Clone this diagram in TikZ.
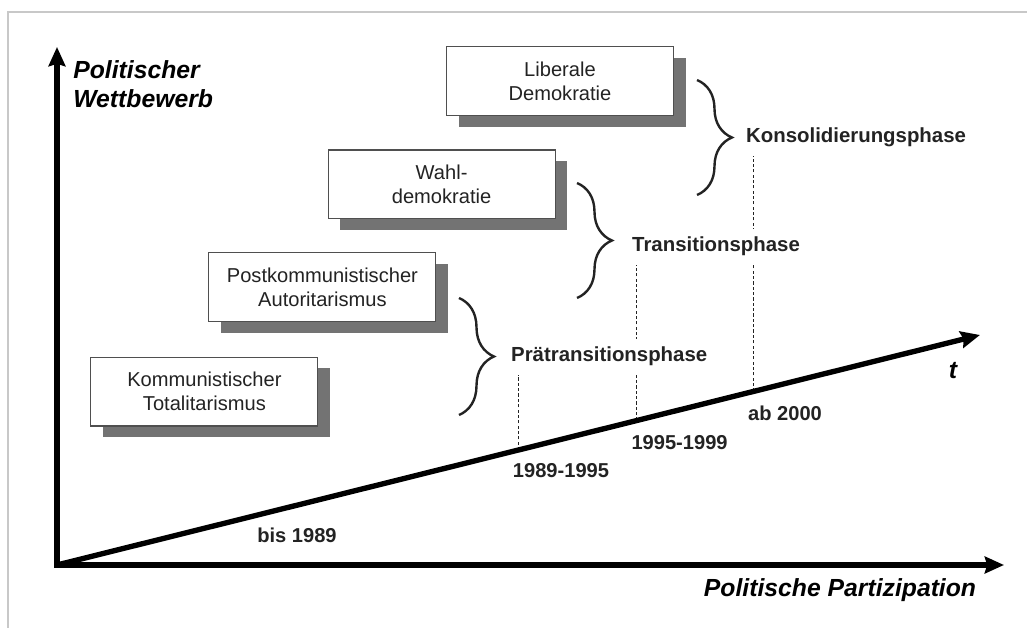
\documentclass[tikz,border=0pt]{standalone}
\usepackage{fontspec}
\setmainfont{Liberation Sans}
\usetikzlibrary{arrows.meta, calc, shadows, backgrounds, decorations.pathreplacing}
\definecolor{framegray}{RGB}{200, 200, 200}
\definecolor{shadegray}{RGB}{115, 115, 115}
\definecolor{inkgray}{RGB}{35, 35, 35}

\begin{document}
\begin{tikzpicture}[
  regime/.style={rectangle, draw=inkgray!80, line width=0.8pt, fill=white, minimum width=5.675cm, minimum height=1.72cm, align=center, text=inkgray, font=\fontsize{14.3}{17}\selectfont, drop shadow={shadow xshift=0.3cm, shadow yshift=-0.28cm, fill=shadegray, opacity=1}},
  phase/.style={fill=white, inner xsep=0pt, minimum height=0.85cm, text=inkgray, font=\fontsize{14.5}{17}\selectfont\bfseries},
  period/.style={inner sep=0pt, text=inkgray, font=\fontsize{14.3}{17}\selectfont\bfseries},
  axislabel/.style={inner sep=0pt, align=left, font=\fontsize{17.6}{20.6}\selectfont\bfseries\itshape},
  axis/.style={line width=3.8pt, ->},
  bracket/.style={decorate, decoration={brace, amplitude=0.875cm}, line width=1.7pt, inkgray},
  guide/.style={dash pattern=on 2.2pt off 1.6pt, line width=0.7pt, inkgray},
  >={Stealth[length=0.48cm, width=0.42cm, inset=0.06cm]}
]
  \useasboundingbox (0, 0) rectangle (25.675, 15.7);
  \draw[framegray, line width=1.5pt] (0.2, 0) -- (0.2, 15.4) -- (25.675, 15.4);

  % axes
  \coordinate (O) at (1.425, 1.575);
  \coordinate (ytip) at (1.425, 14.525);
  \coordinate (xtip) at (25.1, 1.575);
  \coordinate (ttip) at (24.5, 7.325);
  \draw[axis, <->] (ytip) -- (O) -- (xtip);
  \draw[axis] (O) -- (ttip);
  \coordinate (t1) at ($(O)!0.5!(ttip)$);
  \coordinate (t2) at ($(O)!0.628!(ttip)$);
  \coordinate (t3) at ($(O)!0.755!(ttip)$);

  \node[axislabel, anchor=west] (ylab) at (1.825, 13.59) {Politischer\\Wettbewerb};
  \node[axislabel] (xlab) at (21.0, 0.95) {Politische Partizipation};
  \node[axislabel] (tlab) at (23.825, 6.425) {t};

  % regimes
  \node[regime] (lib) at (14.0, 13.675) {Liberale\\Demokratie};
  \node[regime] (wahl) at (11.04, 11.09) {Wahl-\\demokratie};
  \node[regime] (post) at (8.06, 8.525) {Postkommunistischer\\Autoritarismus};
  \node[regime] (komm) at (5.11, 5.91) {Kommunistischer\\Totalitarismus};

  % phases
  \draw[bracket] (17.425, 13.7) -- (17.425, 10.825) node[phase, midway, anchor=west, xshift=1.2cm] (kons) {Konsolidierungsphase};
  \draw[bracket] (14.425, 11.125) -- (14.425, 8.25) node[phase, midway, anchor=west, xshift=1.35cm, yshift=-0.15cm] (trans) {Transitionsphase};
  \draw[bracket] (11.475, 8.25) -- (11.475, 5.325) node[phase, midway, anchor=west, xshift=1.275cm] (prae) {Prätransitionsphase};

  \begin{scope}[on background layer]
    \draw[guide] (t1) -- (t1 |- prae.south);
    \draw[guide] (t2) -- (t2 |- trans.south);
    \draw[guide] (t3) -- (t3 |- kons.south);
  \end{scope}

  % periods
  \node[period] (p1) at (7.425, 2.325) {bis 1989};
  \node[period] (p2) at (14.025, 3.925) {1989-1995};
  \node[period] (p3) at (16.99, 4.625) {1995-1999};
  \node[period] (p4) at (19.625, 5.375) {ab 2000};
\end{tikzpicture}
\end{document}
